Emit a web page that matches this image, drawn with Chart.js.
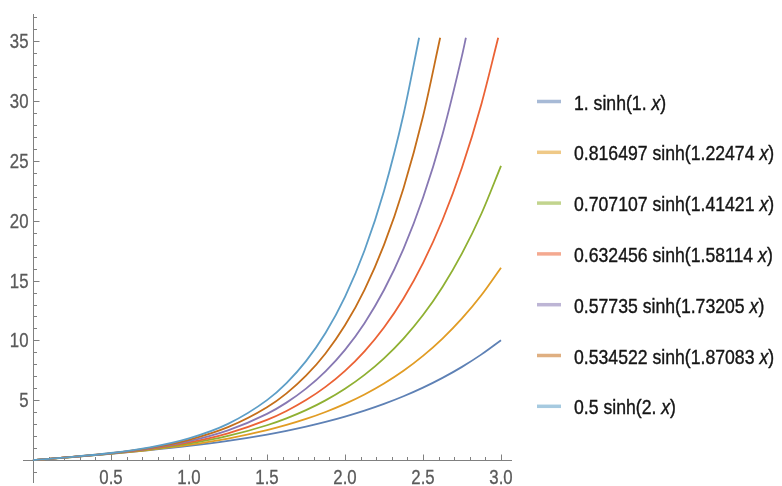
<!DOCTYPE html>
<html>
<head>
<meta charset="utf-8">
<title>a sinh(b x)</title>
<script src="https://cdn.jsdelivr.net/npm/chart.js@4"></script>
<style>
  html, body { margin: 0; padding: 0; background: #fff; }
  #plot { display: block; }
</style>
</head>
<body>
<canvas id="plot" width="782" height="486"></canvas>
<script>
// sample positions along x (denser where the curves get steep)
const xs = [0, 0.25, 0.5, 0.75, 1, 1.25, 1.5, 1.625, 1.75, 1.875, 2, 2.125, 2.25, 2.375, 2.5, 2.625, 2.75, 2.875, 3];

// y values of each curve at those positions
const s1 = [0, 0.253, 0.521, 0.822, 1.175, 1.602, 2.129, 2.441, 2.790, 3.184, 3.627, 4.127, 4.691, 5.329, 6.050, 6.866, 7.789, 8.834, 10.018];
const s2 = [0, 0.254, 0.532, 0.860, 1.269, 1.799, 2.498, 2.931, 3.434, 4.016, 4.693, 5.480, 6.397, 7.463, 8.704, 10.150, 11.835, 13.796, 16.08];
const s3 = [0, 0.255, 0.543, 0.899, 1.368, 2.011, 2.907, 3.484, 4.170, 4.988, 5.961, 7.121, 8.504, 10.153, 12.121, 14.469, 17.272, 20.611, 24.60];
const s4 = [0, 0.257, 0.554, 0.939, 1.472, 2.238, 3.359, 4.105, 5.012, 6.115, 7.457, 9.092, 11.083, 13.509, 16.463, 20.065, 24.450, 29.796];
const s5 = [0, 0.258, 0.565, 0.980, 1.581, 2.483, 3.858, 4.800, 5.968, 7.416, 9.213, 11.445, 14.213, 17.653, 21.921, 27.223, 33.807];
const s6 = [0, 0.259, 0.576, 1.022, 1.694, 2.745, 4.407, 5.575, 7.050, 8.912, 11.263, 14.234, 17.986, 22.727, 28.716];
const s7 = [0, 0.261, 0.588, 1.065, 1.813, 3.025, 5.009, 6.438, 8.271, 10.624, 13.645, 17.523, 22.502, 28.894];

// where the steep curves leave the top of the plot range
const topY = 35.3;
const exitX = [null, null, null, 2.982, 2.775, 2.610, 2.475];

const labels = [
  "1. sinh(1. x)",
  "0.816497 sinh(1.22474 x)",
  "0.707107 sinh(1.41421 x)",
  "0.632456 sinh(1.58114 x)",
  "0.57735 sinh(1.73205 x)",
  "0.534522 sinh(1.87083 x)",
  "0.5 sinh(2. x)"
];
const colors = ["#5E81B5", "#E19C24", "#8FB032", "#EB6235", "#8778B3", "#C56E1A", "#5D9EC7"];
const series = [s1, s2, s3, s4, s5, s6, s7];

const yMajor = [5, 10, 15, 20, 25, 30, 35];
const xMajor = [0.5, 1.0, 1.5, 2.0, 2.5, 3.0];

const FONT = '"Liberation Sans", Arial, sans-serif';
const SQUEEZE = 0.84;

function toPoints(vals, i) {
  const pts = vals.map((v, k) => ({ x: xs[k], y: v }));
  if (exitX[i] !== null) pts.push({ x: exitX[i], y: topY });
  return pts;
}

const datasets = series.map((vals, i) => ({
  label: labels[i],
  data: toPoints(vals, i),
  borderColor: colors[i],
  borderWidth: 1.8,
  pointRadius: 0,
  fill: false,
  cubicInterpolationMode: "monotone",
  order: series.length - 1 - i
}));

function narrowText(ctx, text, x, y, font, color, heavy) {
  ctx.save();
  ctx.font = font;
  ctx.fillStyle = color;
  ctx.translate(x, y);
  ctx.scale(SQUEEZE, 1);
  ctx.fillText(text, 0, 0);
  if (heavy) {
    ctx.strokeStyle = color;
    ctx.lineWidth = heavy;
    ctx.strokeText(text, 0, 0);
  }
  ctx.restore();
}

function narrowWidth(ctx, text, font) {
  ctx.save();
  ctx.font = font;
  const w = ctx.measureText(text).width * SQUEEZE;
  ctx.restore();
  return w;
}

// axes crossing at the origin, ticks pointing inward
const originAxes = {
  id: "originAxes",
  beforeDatasetsDraw(chart) {
    const { ctx, chartArea: a } = chart;
    const xs_ = chart.scales.x, ys_ = chart.scales.y;
    const x0 = Math.round(xs_.getPixelForValue(0)) + 0.5;
    const y0 = Math.round(ys_.getPixelForValue(0)) + 0.5;
    ctx.save();
    ctx.strokeStyle = "#808080";
    ctx.lineWidth = 1;
    ctx.beginPath();
    ctx.moveTo(a.left, y0); ctx.lineTo(a.right, y0);
    ctx.moveTo(x0, a.top); ctx.lineTo(x0, a.bottom);
    // x ticks every 0.1
    for (let k = 1; k <= 30; k++) {
      const px = Math.round(xs_.getPixelForValue(k / 10)) + 0.5;
      const len = k % 5 === 0 ? 6 : 3.5;
      ctx.moveTo(px, y0); ctx.lineTo(px, y0 - len);
    }
    // y ticks every 1
    for (let k = -1; k <= 37; k++) {
      if (k === 0) continue;
      const py = Math.round(ys_.getPixelForValue(k)) + 0.5;
      const len = k % 5 === 0 ? 6 : 3.5;
      ctx.moveTo(x0, py); ctx.lineTo(x0 + len, py);
    }
    ctx.stroke();
    ctx.restore();

    const tickFont = "20px " + FONT;
    ctx.textBaseline = "alphabetic";
    xMajor.forEach(v => {
      const t = v.toFixed(1);
      const w = narrowWidth(ctx, t, tickFont);
      narrowText(ctx, t, xs_.getPixelForValue(v) - w / 2, y0 + 23.5, tickFont, "#5a5a5a", 0.3);
    });
    yMajor.forEach(v => {
      const t = String(v);
      const w = narrowWidth(ctx, t, tickFont);
      narrowText(ctx, t, x0 - 5 - w, ys_.getPixelForValue(v) + 7, tickFont, "#5a5a5a", 0.3);
    });
  }
};

// legend to the right of the plot
const sideLegend = {
  id: "sideLegend",
  afterDraw(chart) {
    const { ctx } = chart;
    const font = "21px " + FONT;
    const italic = "italic 21px " + FONT;
    chart.data.datasets.forEach((ds, i) => {
      const y = 101.5 + i * 50.8;
      ctx.save();
      ctx.globalAlpha = 0.55;
      ctx.strokeStyle = ds.borderColor;
      ctx.lineWidth = 3.5;
      ctx.beginPath();
      ctx.moveTo(537, y); ctx.lineTo(561, y);
      ctx.stroke();
      ctx.restore();

      let x = 574;
      ds.label.split(/(x)/).forEach(part => {
        if (!part) return;
        const f = part === "x" ? italic : font;
        narrowText(ctx, part, x, y + 8, f, "#151515", 0.4);
        x += narrowWidth(ctx, part, f);
      });
    });
  }
};

new Chart(document.getElementById("plot"), {
  type: "line",
  data: { datasets },
  options: {
    responsive: false,
    devicePixelRatio: 1,
    animation: false,
    layout: { padding: { left: 23, top: 14, right: 270, bottom: 3 } },
    plugins: { legend: { display: false }, tooltip: { enabled: false } },
    scales: {
      x: { type: "linear", min: -0.064, max: 3.0705, display: false },
      y: { type: "linear", min: -1.92, max: 37.29, display: false }
    }
  },
  plugins: [originAxes, sideLegend]
});
</script>
</body>
</html>
